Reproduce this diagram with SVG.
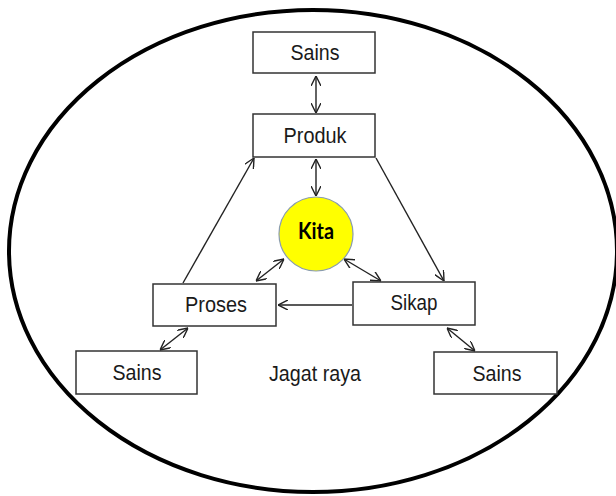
<svg xmlns="http://www.w3.org/2000/svg" width="616" height="496" viewBox="0 0 616 496">
<style>
.box{fill:#fff;stroke:#333;stroke-width:1.5}
.lbl{font-family:"Liberation Sans",Arial,sans-serif;font-size:21.5px;fill:#1a1a1a;text-anchor:middle}
.con{stroke:#222;stroke-width:1.4;fill:none}
</style>
<defs>
<marker id="ah" viewBox="0 0 10 10" refX="10" refY="5" markerWidth="10" markerHeight="10" markerUnits="userSpaceOnUse" orient="auto-start-reverse">
<path d="M0,0 L10,5 L0,10" fill="none" stroke="#222" stroke-width="1.4"/>
</marker>
</defs>
<rect width="616" height="496" fill="#fff"/>
<ellipse cx="313" cy="251" rx="304" ry="241" fill="none" stroke="#000" stroke-width="4"/>
<g id="connectors">
<line class="con" x1="316" y1="76" x2="316" y2="113" marker-start="url(#ah)" marker-end="url(#ah)"/>
<line class="con" x1="316" y1="159" x2="316" y2="196" marker-start="url(#ah)" marker-end="url(#ah)"/>
<line class="con" x1="183" y1="283" x2="254" y2="158" marker-end="url(#ah)"/>
<line class="con" x1="376" y1="158" x2="444" y2="281" marker-end="url(#ah)"/>
<line class="con" x1="352" y1="305" x2="278" y2="305" marker-end="url(#ah)"/>
<line class="con" x1="284" y1="259" x2="256" y2="281" marker-start="url(#ah)" marker-end="url(#ah)"/>
<line class="con" x1="344" y1="259" x2="381" y2="281" marker-start="url(#ah)" marker-end="url(#ah)"/>
<line class="con" x1="188" y1="328" x2="160" y2="350" marker-start="url(#ah)" marker-end="url(#ah)"/>
<line class="con" x1="447" y1="328" x2="475" y2="351" marker-start="url(#ah)" marker-end="url(#ah)"/>
</g>
<g id="sains-top">
<rect class="box" x="253" y="32" width="122" height="41"/>
<text class="lbl" x="315" y="60" textLength="49" lengthAdjust="spacingAndGlyphs">Sains</text>
</g>
<g id="produk">
<rect class="box" x="253" y="114" width="122" height="43"/>
<text class="lbl" x="315" y="143" textLength="63" lengthAdjust="spacingAndGlyphs">Produk</text>
</g>
<g id="kita">
<circle cx="316" cy="234" r="37" fill="#ffff00" stroke="#8a9cae" stroke-width="1.2"/>
<text x="316" y="239" text-anchor="middle" font-family="Lato,'Open Sans',sans-serif" font-weight="bold" font-size="22" fill="#000" textLength="36" lengthAdjust="spacingAndGlyphs">Kita</text>
</g>
<g id="proses">
<rect class="box" x="153" y="284" width="123" height="42"/>
<text class="lbl" x="216" y="312" textLength="62" lengthAdjust="spacingAndGlyphs">Proses</text>
</g>
<g id="sikap">
<rect class="box" x="353" y="282" width="122" height="43"/>
<text class="lbl" x="414" y="310" textLength="47" lengthAdjust="spacingAndGlyphs">Sikap</text>
</g>
<g id="sains-left">
<rect class="box" x="76" y="351" width="121" height="43"/>
<text class="lbl" x="137" y="380" textLength="49" lengthAdjust="spacingAndGlyphs">Sains</text>
</g>
<g id="sains-right">
<rect class="box" x="434" y="352" width="123" height="42"/>
<text class="lbl" x="497" y="381" textLength="49" lengthAdjust="spacingAndGlyphs">Sains</text>
</g>
<text class="lbl" x="315" y="381" textLength="92" lengthAdjust="spacingAndGlyphs">Jagat raya</text>
</svg>
